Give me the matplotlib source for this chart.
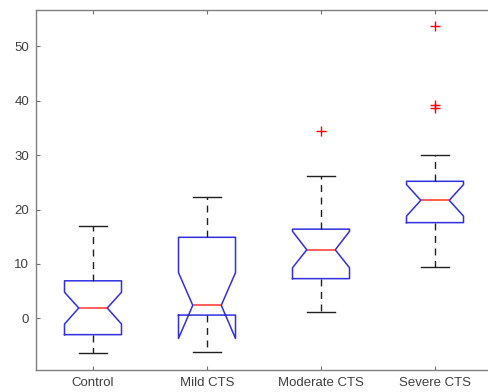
import matplotlib
matplotlib.use("Agg")
import matplotlib.pyplot as plt

labels = ['Control', 'Mild CTS', 'Moderate CTS', 'Severe CTS']
med = [1.9, 2.4, 12.6, 21.7]
q1 = [-3.0, 0.6, 7.3, 17.6]
q3 = [6.9, 14.9, 16.4, 25.2]
whislo = [-6.3, -6.2, 1.2, 9.4]
whishi = [16.9, 22.3, 26.1, 30.1]
cilo = [-1.05, -3.7, 9.3, 18.8]
cihi = [4.8, 8.4, 16.0, 24.6]
fliers = [[], [], [34.5], [53.8, 39.3, 38.7]]

plt.rcParams['font.family'] = ['Liberation Sans', 'DejaVu Sans']

stats = []
for i in range(len(labels)):
    stats.append(dict(med=med[i], q1=q1[i], q3=q3[i], whislo=whislo[i],
                      whishi=whishi[i], cilo=cilo[i], cihi=cihi[i],
                      fliers=fliers[i], label=labels[i]))

fig = plt.figure(figsize=(4.89, 3.92), dpi=100)
# right edge of the box sits just outside the image, like the original
ax = fig.add_axes([36 / 489, 1 - 370 / 392, 456 / 489, 360 / 392])

ax.bxp(stats, positions=[1, 2, 3, 4], widths=0.5, shownotches=True,
       boxprops=dict(color='#3030e0', linewidth=1.1),
       medianprops=dict(color='#ff3030', linewidth=1.1),
       whiskerprops=dict(color='#202020', linestyle=(0, (5, 4)), linewidth=1.0),
       capprops=dict(color='#202020', linewidth=1.0),
       flierprops=dict(marker='+', markeredgecolor='red', markersize=7,
                       markeredgewidth=1.0, linestyle='none'))

ax.set_xlim(0.5, 4.5)
ax.set_ylim(-9.5, 56.7)
ax.set_yticks([0, 10, 20, 30, 40, 50])
ax.set_xticks([1, 2, 3, 4])
ax.set_xticklabels(labels)
ax.tick_params(direction='in', top=True, right=True, length=3, width=0.8,
               color='#707070', labelcolor='#404040', labelsize=9.5, pad=5)
for s in ax.spines.values():
    s.set_color('#808080')
    s.set_linewidth(1.0)

fig.savefig("out.png", dpi=100)
